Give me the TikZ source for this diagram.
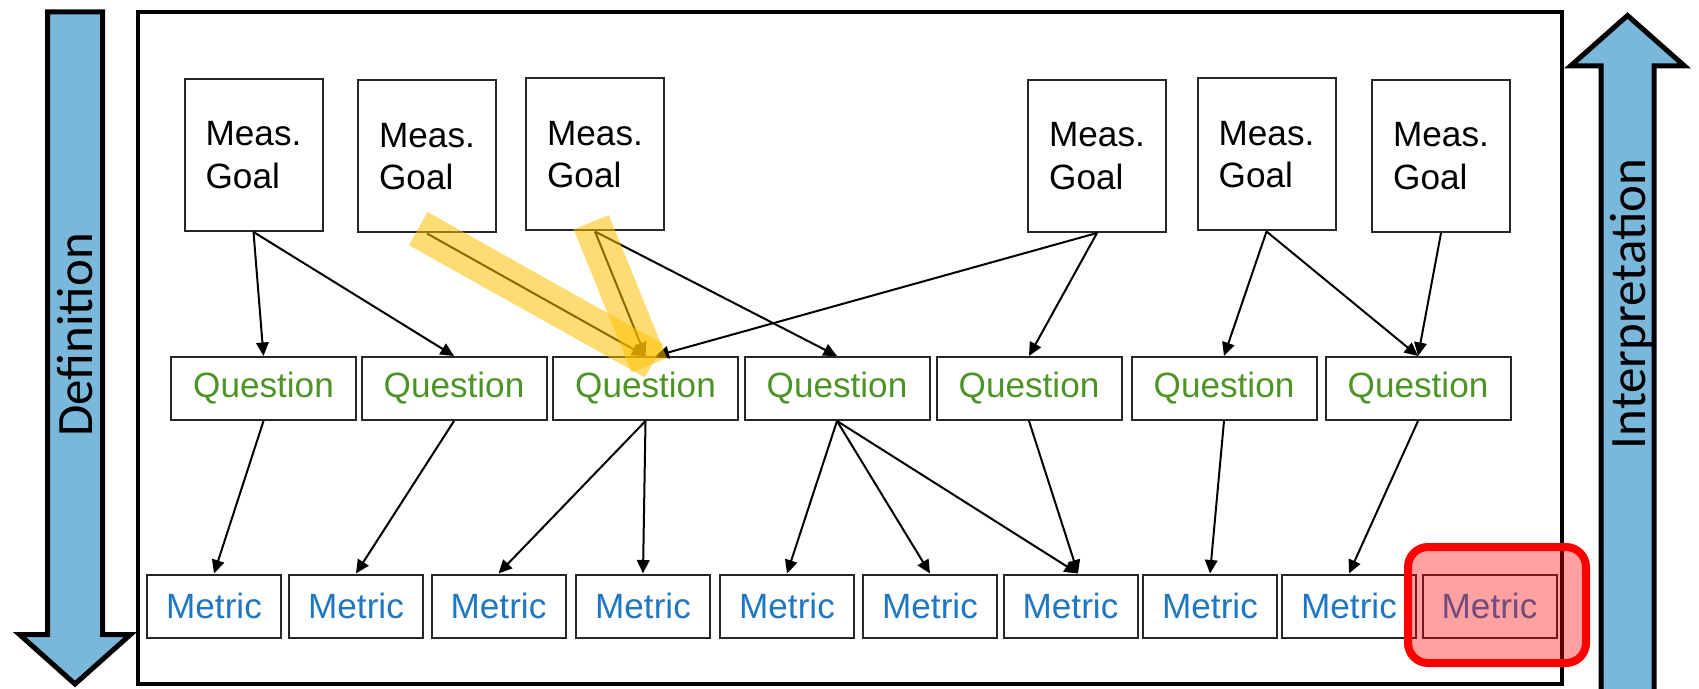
\documentclass[tikz,border=0pt]{standalone}
\usepackage{fontspec}
\setmainfont{Liberation Sans}
\newfontfamily\calibrifont{Carlito}
\usetikzlibrary{arrows.meta}

\definecolor{arrowblue}{RGB}{122,184,219}
\definecolor{qgreen}{RGB}{77,148,38}
\definecolor{mblue}{RGB}{31,119,196}
\definecolor{hlyellow}{RGB}{255,192,0}

\begin{document}
\begin{tikzpicture}[->,>={Stealth[inset=0pt,length=2.7mm,width=2.5mm]},line width=0.04cm,
    box/.style={rectangle,draw=black!85,line width=0.04cm,inner sep=0pt,font=\fontsize{20}{24}\selectfont},
    goal node/.style={box,minimum width=2.76cm,minimum height=3.04cm,align=left},
    question node/.style={box,minimum width=3.7cm,minimum height=1.26cm,text=qgreen},
    metric node/.style={box,minimum width=2.68cm,minimum height=1.26cm,text=mblue},
    big arrow/.style={-,draw=black,line width=0.1cm,fill=arrowblue,line join=miter},
    side text/.style={rotate=90,font=\calibrifont\fontsize{29}{34}\selectfont},
    marker/.style={-,line width=0.76cm,draw=hlyellow,draw opacity=0.55,shorten <=-0.2cm,shorten >=-0.2cm}]

    \useasboundingbox (0,0) rectangle (33.98,13.76);

    % frame and side arrows
    \draw[-,line width=0.08cm] (2.76,0.08) rectangle (31.24,13.52);
    \draw[big arrow] (0.95,13.52) -- (2.05,13.52) -- (2.05,1.07) -- (2.61,1.07) -- (1.50,0.08) -- (0.39,1.07) -- (0.95,1.07) -- cycle;
    \draw[big arrow] (32.02,-0.2) -- (32.02,12.44) -- (31.41,12.44) -- (32.55,13.45) -- (33.69,12.44) -- (33.08,12.44) -- (33.08,-0.2) -- cycle;
    \node[side text] (definition) at (1.50,7.06) {Definition};
    \node[side text] (interpretation) at (32.64,7.68) {Interpretation};

    \node[goal node] (g1) at (5.07,10.66) {Meas.\\Goal};
    \node[goal node] (g2) at (8.54,10.63) {Meas.\\Goal};
    \node[goal node] (g3) at (11.90,10.67) {Meas.\\Goal};
    \node[goal node] (g4) at (21.94,10.64) {Meas.\\Goal};
    \node[goal node] (g5) at (25.33,10.67) {Meas.\\Goal};
    \node[goal node] (g6) at (28.82,10.64) {Meas.\\Goal};

    \node[question node] (q1) at (5.27,5.99) {Question};
    \node[question node] (q2) at (9.08,5.99) {Question};
    \node[question node] (q3) at (12.91,5.99) {Question};
    \node[question node] (q4) at (16.74,5.99) {Question};
    \node[question node] (q5) at (20.58,5.99) {Question};
    \node[question node] (q6) at (24.48,5.99) {Question};
    \node[question node] (q7) at (28.36,5.99) {Question};

    \node[metric node] (m1) at (4.28,1.64) {Metric};
    \node[metric node] (m2) at (7.12,1.64) {Metric};
    \node[metric node] (m3) at (9.97,1.64) {Metric};
    \node[metric node] (m4) at (12.86,1.64) {Metric};
    \node[metric node] (m5) at (15.74,1.64) {Metric};
    \node[metric node] (m6) at (18.60,1.64) {Metric};
    \node[metric node] (m7) at (21.41,1.64) {Metric};
    \node[metric node] (m8) at (24.20,1.64) {Metric};
    \node[metric node] (m9) at (26.98,1.64) {Metric};
    \node[metric node] (m10) at (29.79,1.64) {Metric};

    % goals to questions
    \draw (g1.south) -- (q1.north);
    \draw (g1.south) -- (q2.north);
    \draw (g2.south) -- (q3.north);
    \draw (g3.south) -- (q3.north);
    \draw (g3.south) -- (q4.north);
    \draw (g4.south) -- ([xshift=0.2cm]q3.north);
    \draw (g4.south) -- (q5.north);
    \draw (g5.south) -- (q6.north);
    \draw (g5.south) -- (q7.north);
    \draw (g6.south) -- (q7.north);

    % questions to metrics
    \draw (q1.south) -- (m1.north);
    \draw (q2.south) -- (m2.north);
    \draw (q3.south) -- (m3.north);
    \draw (q3.south) -- (m4.north);
    \draw (q4.south) -- (m5.north);
    \draw (q4.south) -- (m6.north);
    \draw (q4.south) -- ([xshift=0.15cm]m7.north);
    \draw (q5.south) -- ([xshift=0.15cm]m7.north);
    \draw (q6.south) -- (m8.north);
    \draw (q7.south) -- (m9.north);

    % highlights
    \draw[marker] (g2.south) -- (q3.north);
    \draw[marker] (g3.south) -- (q3.north);
    \draw[-,draw=red,line width=0.16cm,fill=red,fill opacity=0.37,rounded corners=0.4cm] (28.16,0.50) rectangle (31.72,2.82);
\end{tikzpicture}
\end{document}
